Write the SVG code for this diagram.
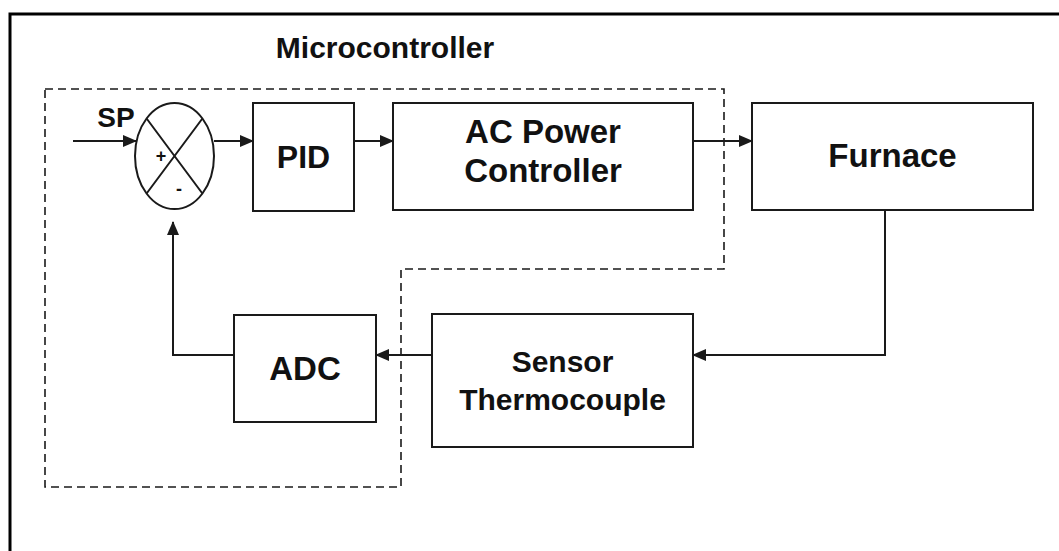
<svg xmlns="http://www.w3.org/2000/svg" width="1059" height="551" viewBox="0 0 1059 551">
<defs>
<style>
.box{fill:none;stroke:#1a1a1a;stroke-width:2}
.ln{fill:none;stroke:#1a1a1a;stroke-width:2}
.dash{fill:none;stroke:#1a1a1a;stroke-width:1.6;stroke-dasharray:8 5}
.t{font-family:"Liberation Sans",Arial,sans-serif;font-weight:bold;fill:#111;text-anchor:middle}
</style>
<marker id="ah" markerWidth="14" markerHeight="12" refX="13" refY="6" orient="auto" markerUnits="userSpaceOnUse">
<path d="M0,0 L14,6 L0,12 Z" fill="#1a1a1a"/>
</marker>
</defs>
<rect width="1059" height="551" fill="#fff"/>
<path d="M10,560 L10,14 L1070,14" fill="none" stroke="#000" stroke-width="3"/>
<g id="microcontroller">
<path class="dash" d="M45,89 L724,89 L724,269 L401,269 L401,487 L45,487 Z"/>
<text class="t" x="385" y="58" font-size="30">Microcontroller</text>
</g>
<g id="sum">
<ellipse cx="174.5" cy="156" rx="39.5" ry="53" class="box"/>
<path class="ln" d="M146.6,118.5 L202.4,193.5 M202.4,118.5 L146.6,193.5" stroke-width="1.6"/>
<text class="t" x="161" y="162" font-size="18">+</text>
<text class="t" x="179" y="195" font-size="18">-</text>
</g>
<g id="sp">
<text class="t" x="116" y="127" font-size="28">SP</text>
</g>
<g id="pid">
<rect class="box" x="253" y="103" width="101" height="108"/>
<text class="t" x="303.5" y="168" font-size="32">PID</text>
</g>
<g id="ac">
<rect class="box" x="393" y="103" width="300" height="107"/>
<text class="t" x="543" y="143" font-size="33">AC Power</text>
<text class="t" x="543" y="182" font-size="33">Controller</text>
</g>
<g id="furnace">
<rect class="box" x="752" y="103" width="281" height="107"/>
<text class="t" x="892.5" y="167" font-size="33">Furnace</text>
</g>
<g id="sensor">
<rect class="box" x="432" y="314" width="261" height="133"/>
<text class="t" x="562.5" y="372" font-size="30">Sensor</text>
<text class="t" x="562.5" y="410" font-size="30">Thermocouple</text>
</g>
<g id="adc">
<rect class="box" x="234" y="315" width="142" height="107"/>
<text class="t" x="305" y="380" font-size="33">ADC</text>
</g>
<g id="connectors">
<path class="ln" d="M73,141 L136,141" marker-end="url(#ah)"/>
<path class="ln" d="M214,141 L253,141" marker-end="url(#ah)"/>
<path class="ln" d="M354,141 L393,141" marker-end="url(#ah)"/>
<path class="ln" d="M693,141 L752,141" marker-end="url(#ah)"/>
<path class="ln" d="M885,210 L885,355 L693,355" marker-end="url(#ah)"/>
<path class="ln" d="M432,355 L376,355" marker-end="url(#ah)"/>
<path class="ln" d="M234,355 L173,355 L173,222" marker-end="url(#ah)"/>
</g>
</svg>
